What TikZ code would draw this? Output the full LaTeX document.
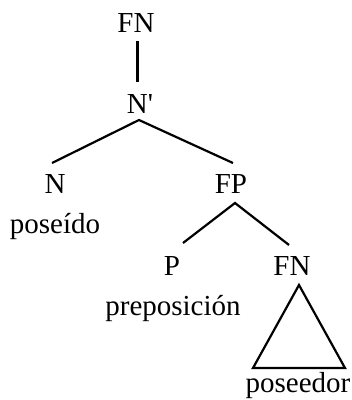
\documentclass[tikz,border=0pt]{standalone}
\usepackage{fontspec}
\newfontfamily\tf{Liberation Serif}
\begin{document}
\begin{tikzpicture}[x=1pt,y=-1pt,
  lab/.style={font=\tf\fontsize{29}{34}\selectfont, anchor=base, inner sep=0pt},
  br/.style={line width=2.2pt, line join=miter}]
\useasboundingbox (0,0) rectangle (352,400);
% labels
\node[lab] (fn1) at (136,32) {FN};
\node[lab] (nbar) at (140,113) {N'};
\node[lab] (n) at (55,193) {N};
\node[lab] (poseido) at (55,233) {poseído};
\node[lab] (fp) at (231,193) {FP};
\node[lab] (p) at (172,275) {P};
\node[lab] (fn2) at (292,275) {FN};
\node[lab] (prep) at (173,315) {preposición};
\node[lab] (poseedor) at (298,392) {poseedor};
% connector end points
\coordinate (fn1b) at (137.5,41);
\coordinate (nbart) at (137.5,82);
\coordinate (nbarb) at (139,120);
\coordinate (nt) at (52,163);
\coordinate (fpt) at (233,163);
\coordinate (fpb) at (235,203);
\coordinate (pt) at (183,243);
\coordinate (fn2t) at (289,245);
\coordinate (triA) at (299,285);
\coordinate (triL) at (253,368);
\coordinate (triR) at (345,368);
% connectors
\draw[br] (fn1b) -- (nbart);
\draw[br] (nt) -- (nbarb) -- (fpt);
\draw[br] (pt) -- (fpb) -- (fn2t);
\draw[br] (triA) -- (triL) -- (triR) -- cycle;
\end{tikzpicture}
\end{document}
